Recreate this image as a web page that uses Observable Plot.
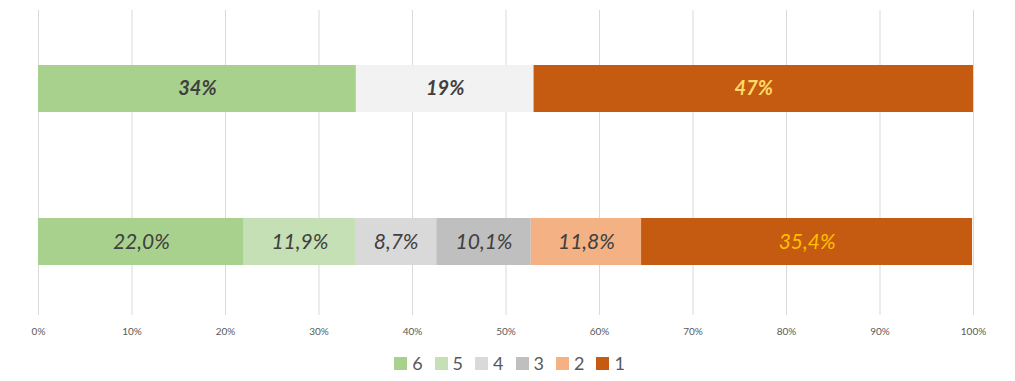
<!DOCTYPE html>
<html>
<head>
<meta charset="utf-8">
<script src="https://cdn.jsdelivr.net/npm/d3@7"></script>
<script src="https://cdn.jsdelivr.net/npm/@observablehq/plot@0.6"></script>
<style>
  html, body { margin: 0; padding: 0; background: #fff; }
  body { width: 1015px; height: 381px; overflow: hidden; font-family: Lato, "Open Sans", sans-serif; }
  #legend { display: flex; justify-content: center; align-items: center; gap: 12px; margin-top: 7px; padding-left: 4px; font-size: 18px; color: #595959; }
  #legend .item { display: flex; align-items: center; gap: 5px; }
  #legend .sw { width: 13px; height: 13px; display: inline-block; }
</style>
</head>
<body>
<div id="chart"></div>
<div id="legend"></div>
<script>
// Top bar (summary)
const topKeys = ["6", "mid", "1"];
const topValues = [34, 19, 47];
const topLabels = ["34%", "19%", "47%"];
const topColors = ["#A9D18E", "#F2F2F2", "#C55A11"];
const topTextColors = ["#404040", "#404040", "#FFD966"];

// Bottom bar (detail)
const keys = ["6", "5", "4", "3", "2", "1"];
const values = [22.0, 11.9, 8.7, 10.1, 11.8, 35.4];
const labels = ["22,0%", "11,9%", "8,7%", "10,1%", "11,8%", "35,4%"];
const colors = ["#A9D18E", "#C5E0B4", "#D9D9D9", "#BFBFBF", "#F4B183", "#C55A11"];
const textColors = ["#404040", "#404040", "#404040", "#404040", "#404040", "#FFC000"];

const ticks = [0, 10, 20, 30, 40, 50, 60, 70, 80, 90, 100];
const rows = ["top", "bottom"];

const topData = topKeys.map((k, i) => ({row: "top", key: "t" + k, value: topValues[i], label: topLabels[i], fill: topColors[i], tc: topTextColors[i]}));
const botData = keys.map((k, i) => ({row: "bottom", key: "b" + k, value: values[i], label: labels[i], fill: colors[i], tc: textColors[i]}));

const chart = Plot.plot({
  width: 1015,
  height: 345,
  marginLeft: 38,
  marginRight: 42,
  marginTop: 10,
  marginBottom: 30,
  style: {fontFamily: "Lato, 'Open Sans', sans-serif", background: "#fff"},
  x: {domain: [0, 100], ticks: ticks, tickFormat: d => d + "%", label: null},
  y: {domain: rows, range: [65, 266], paddingInner: 0.69, paddingOuter: 0, axis: null},
  marks: [
    Plot.ruleX(ticks, {stroke: "#D9D9D9", strokeWidth: 1}),
    Plot.barX(topData, Plot.stackX({x: "value", y: "row", z: "key", order: null, fill: d => d.fill})),
    Plot.barX(botData, Plot.stackX({x: "value", y: "row", z: "key", order: null, fill: d => d.fill})),
    Plot.text(topData, Plot.stackX({x: "value", y: "row", z: "key", order: null, text: "label", fill: d => d.tc, fontSize: 20, fontWeight: "bold", fontStyle: "italic"})),
    Plot.text(botData, Plot.stackX({x: "value", y: "row", z: "key", order: null, text: "label", fill: d => d.tc, fontSize: 21, fontStyle: "italic"})),
    Plot.axisX(ticks, {tickSize: 0, tickPadding: 12, fontSize: 10, fill: "#595959", tickFormat: d => d + "%", label: null})
  ]
});
document.getElementById("chart").appendChild(chart);

const legend = document.getElementById("legend");
keys.forEach((k, i) => {
  const item = document.createElement("span");
  item.className = "item";
  const sw = document.createElement("span");
  sw.className = "sw";
  sw.style.background = colors[i];
  const t = document.createElement("span");
  t.textContent = k;
  item.appendChild(sw);
  item.appendChild(t);
  legend.appendChild(item);
});
</script>
</body>
</html>
